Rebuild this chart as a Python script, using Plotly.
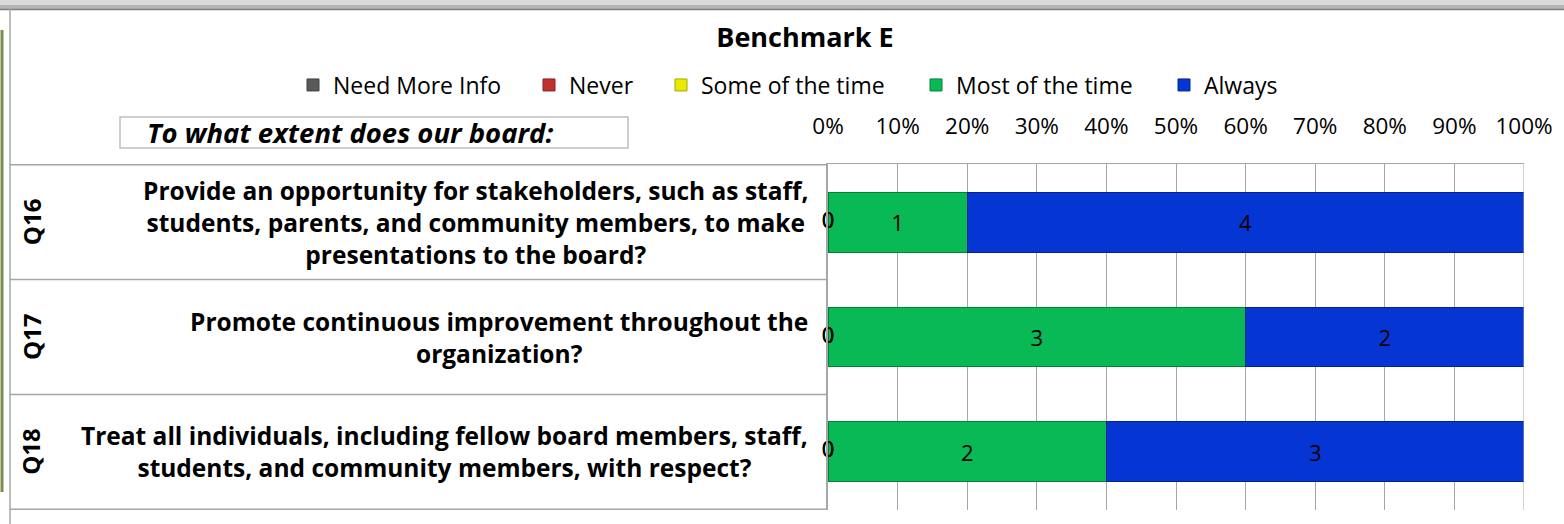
import plotly.graph_objects as go

W, H = 1564, 524

questions = ["Q16", "Q17", "Q18"]
question_text = [
    "Provide an opportunity for stakeholders, such as staff,<br>students, parents, and community members, to make<br>presentations to the board?",
    "Promote continuous improvement throughout the<br>organization?",
    "Treat all individuals, including fellow board members, staff,<br>students, and community members, with respect?",
]
series_names = ["Need More Info", "Never", "Some of the time", "Most of the time", "Always"]
need_more_info = [0, 0, 0]
never = [0, 0, 0]
some_of_the_time = [0, 0, 0]
most_of_the_time = [1, 3, 2]
always = [4, 2, 3]
x_ticks = [0, 10, 20, 30, 40, 50, 60, 70, 80, 90, 100]
x_tick_labels = ["0%", "10%", "20%", "30%", "40%", "50%", "60%", "70%", "80%", "90%", "100%"]

series_values = [need_more_info, never, some_of_the_time, most_of_the_time, always]
colors = ["#595959", "#C0302E", "#E8E800", "#08B955", "#0536D4"]
edge_colors = ["#404040", "#8E2020", "#A8A800", "#067F3A", "#03248F"]
legend_text_x = [332, 568, 700, 955, 1203]

FONT = "Open Sans"


def px(x):
    return x / W


def py(y):
    return 1 - y / H


totals = [sum(s[i] for s in series_values) for i in range(len(questions))]

fig = go.Figure()
base = [0.0] * len(questions)
for k, (name, vals) in enumerate(zip(series_names, series_values)):
    pct = [v / t * 100 for v, t in zip(vals, totals)]
    lg = "legend" if k == 0 else f"legend{k + 1}"
    fig.add_trace(go.Bar(
        y=questions, x=pct, base=base, orientation="h", name=name,
        marker=dict(color=colors[k], line=dict(color=edge_colors[k], width=1)),
        text=[str(v) if v else "" for v in vals], textposition="inside",
        insidetextanchor="middle", textfont=dict(family=FONT, size=22, color="black"),
        legend=lg, hoverinfo="name+text",
    ))
    # zero-valued segments have no width, so their labels go on as text points
    zero_y = [q for q, v in zip(questions, vals) if v == 0]
    zero_x = [b for b, v in zip(base, vals) if v == 0]
    if zero_y:
        fig.add_trace(go.Scatter(
            y=zero_y, x=zero_x, mode="text", text=["0"] * len(zero_y),
            textfont=dict(family=FONT, size=22, color="black"),
            showlegend=False, hoverinfo="skip", cliponaxis=False,
        ))
    base = [b + p for b, p in zip(base, pct)]

legends = {}
for k, tx in enumerate(legend_text_x):
    key = "legend" if k == 0 else f"legend{k + 1}"
    legends[key] = dict(
        x=px(tx - 39), y=py(85), xanchor="left", yanchor="middle",
        orientation="h", bgcolor="rgba(0,0,0,0)",
        font=dict(family=FONT, size=23, color="black"),
    )

shapes = [
    # frame band at the top
    dict(type="rect", xref="paper", yref="paper", x0=0, x1=1, y0=py(5), y1=1,
         fillcolor="#DADADA", line=dict(width=0), layer="below"),
    dict(type="rect", xref="paper", yref="paper", x0=0, x1=1, y0=py(9), y1=py(5),
         fillcolor="#B4B4B4", line=dict(width=0), layer="below"),
    dict(type="line", xref="paper", yref="paper", x0=0, x1=1, y0=py(9.5), y1=py(9.5),
         line=dict(color="#7F7F7F", width=1.5)),
    dict(type="line", xref="paper", yref="paper", x0=px(10), x1=px(10), y0=py(9), y1=0,
         line=dict(color="#A6A6A6", width=1.5)),
    dict(type="line", xref="paper", yref="paper", x0=px(2), x1=px(2), y0=py(30), y1=py(492),
         line=dict(color="#7D8C50", width=3)),
    # question box
    dict(type="rect", xref="paper", yref="paper", x0=px(120), x1=px(628), y0=py(148), y1=py(117),
         line=dict(color="#BFBFBF", width=1.5)),
    # right edge of the grid
    dict(type="line", xref="x", yref="paper", x0=100, x1=100, y0=py(510), y1=py(164),
         line=dict(color="#A6A6A6", width=1)),
]
for yb in [-0.5, 0.5, 1.5, 2.5]:
    shapes.append(dict(type="line", xref="paper", yref="y", x0=px(10), x1=px(828), y0=yb, y1=yb,
                       line=dict(color="#A6A6A6", width=1.5)))

annotations = [
    dict(text="<b><i>To what extent does our board:</i></b>", xref="paper", yref="paper",
         x=px(145), y=py(133), xanchor="left", yanchor="middle", showarrow=False,
         font=dict(family=FONT, size=27.5, color="black")),
]
for q, t in zip(questions, question_text):
    annotations.append(dict(text=f"<b>{q}</b>", xref="paper", yref="y", x=px(31), y=q,
                            textangle=-90, showarrow=False, xanchor="center", yanchor="middle",
                            font=dict(family=FONT, size=24, color="black")))
    annotations.append(dict(text=f"<b>{t}</b>", xref="paper", yref="y", x=px(810), y=q,
                            xanchor="right", yanchor="middle", align="center", showarrow=False,
                            font=dict(family=FONT, size=24.5, color="black")))

fig.update_layout(
    width=W, height=H, barmode="stack", bargap=0.48,
    margin=dict(l=0, r=0, t=0, b=0, autoexpand=False),
    paper_bgcolor="white", plot_bgcolor="white",
    title=dict(text="<b>Benchmark E</b>", x=px(805), y=py(38), xanchor="center", yanchor="middle",
               yref="container", font=dict(family=FONT, size=27, color="black")),
    xaxis=dict(domain=[px(828), px(1524)], range=[0, 100], side="top", tickvals=x_ticks,
               ticktext=x_tick_labels, showgrid=True, gridcolor="#A6A6A6", gridwidth=1,
               zeroline=False, showline=True, linecolor="#A6A6A6", linewidth=1, ticks="",
               ticklabelstandoff=20, automargin=False,
               tickfont=dict(family=FONT, size=22.5, color="black"), fixedrange=True),
    yaxis=dict(domain=[py(510), py(164)], autorange="reversed", showticklabels=False,
               showgrid=False, zeroline=False, showline=True, linecolor="#A6A6A6", linewidth=1.5,
               automargin=False, fixedrange=True),
    shapes=shapes, annotations=annotations, showlegend=True,
    **legends,
)

fig.write_html("out.html", config={"displayModeBar": False},
               post_script="document.body.style.margin='0';document.body.style.overflow='hidden';")
